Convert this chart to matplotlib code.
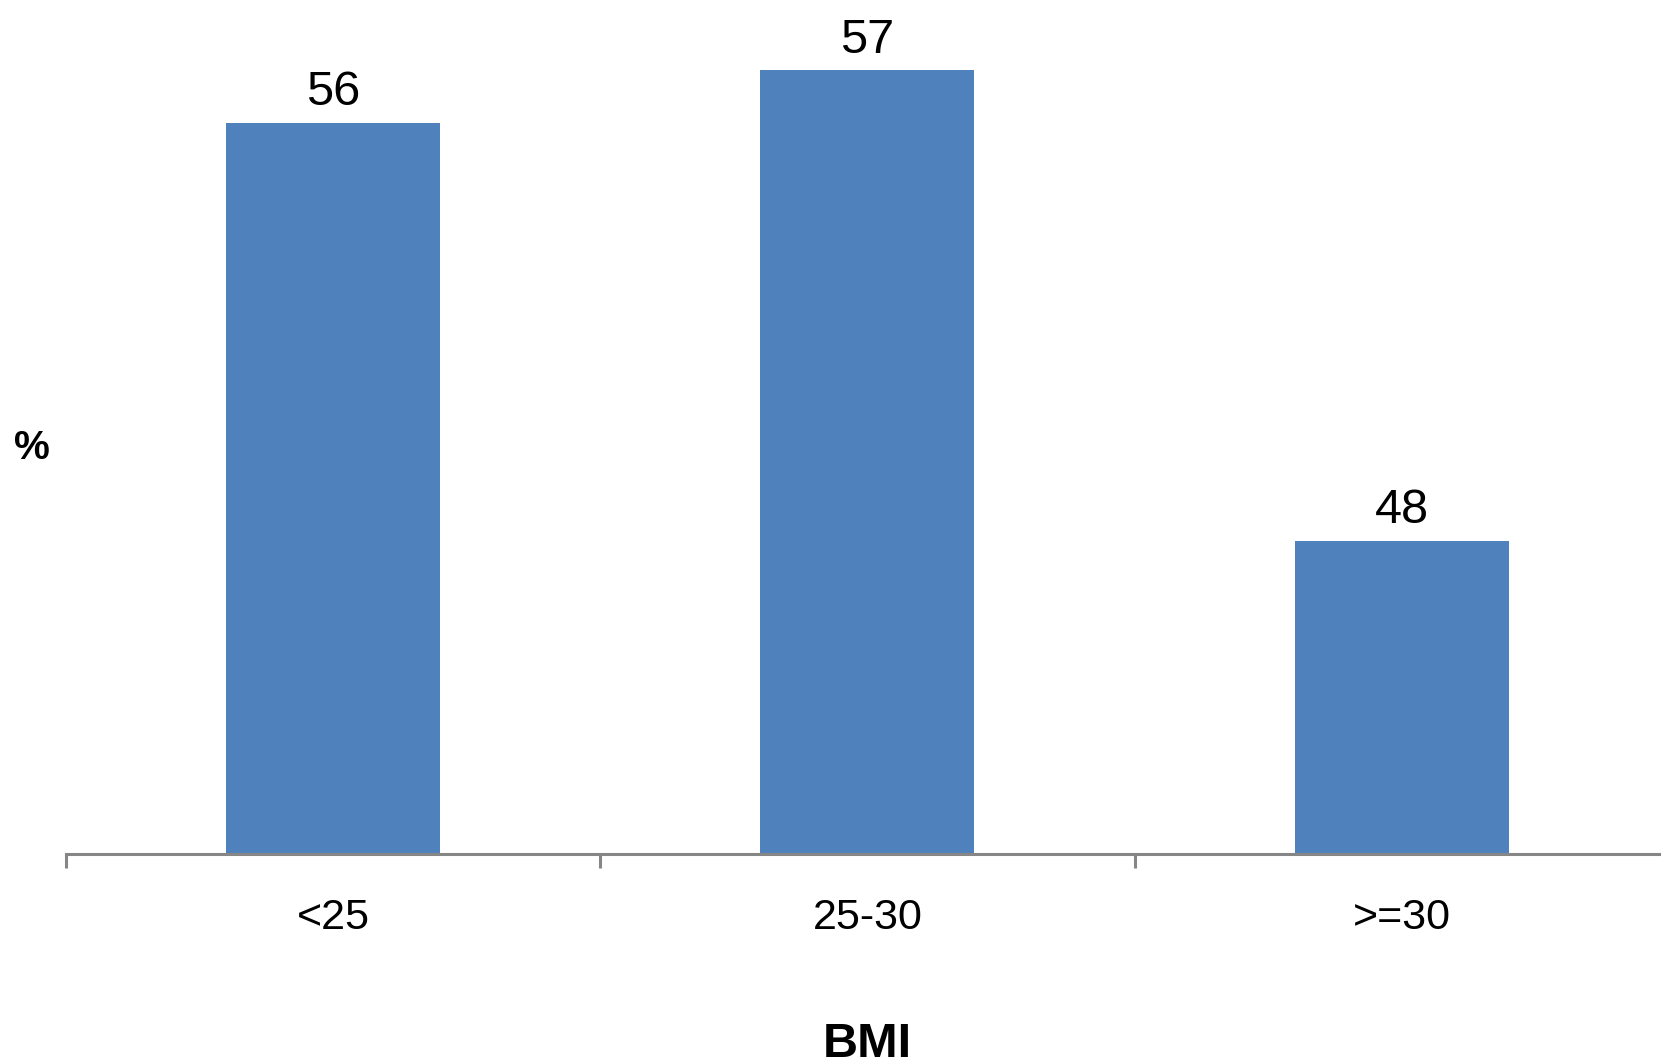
import matplotlib
matplotlib.use("Agg")
import matplotlib.pyplot as plt
import numpy as np

# BMI categories and share (%)
categorias = ['<25', '25-30', '>=30']
valores = [56, 57, 48]

plt.rcParams['font.family'] = ['Liberation Sans', 'DejaVu Sans']

fig = plt.figure(figsize=(16.61, 10.639), dpi=100)
ax = fig.add_axes([0.0396, 0.1964, 0.9652, 0.7857])

x = np.arange(len(categorias))
barras = ax.bar(x, valores, width=0.4, color='#4F81BD', linewidth=0, zorder=2)

# rotulos de valor acima das barras
for xi, v in zip(x, valores):
    ax.annotate(str(v), (xi, v), xytext=(0, 13.5), textcoords='offset points',
                ha='center', va='baseline', fontsize=35, color='black')

ax.set_xlim(-0.5, len(categorias) - 0.5)
ax.set_ylim(42, 58)

for lado in ['top', 'right', 'left']:
    ax.spines[lado].set_visible(False)
ax.spines['bottom'].set_color('#868686')
ax.spines['bottom'].set_linewidth(2.2)
ax.spines['bottom'].set_zorder(3)

ax.set_yticks([])
ax.set_xticks(x)
ax.set_xticklabels(categorias, fontsize=31)
ax.tick_params(axis='x', which='major', length=0, pad=31)
ax.set_xticks(np.arange(len(categorias) + 1) - 0.5, minor=True)
ax.tick_params(axis='x', which='minor', length=10, width=2.2, color='#868686',
               direction='out')

fig.text(0.0195, 0.579, '%', fontsize=29, fontweight='bold', ha='center', va='center')
fig.text(0.522, 0.018, 'BMI', fontsize=35, fontweight='bold', ha='center', va='center')

fig.savefig('out.png', dpi=100)
